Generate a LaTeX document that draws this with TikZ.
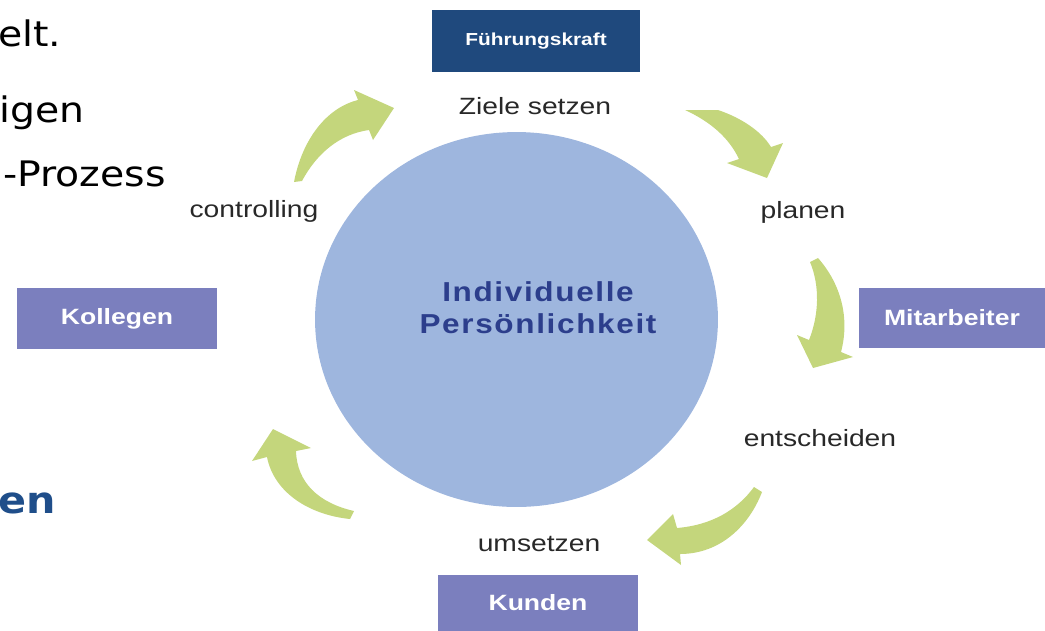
\documentclass[tikz,border=0pt]{standalone}
\usepackage{fontspec}
\usepackage{tikz}
\usetikzlibrary{shapes.geometric}

\newfontfamily\labelfont[FakeStretch=1.2]{Liberation Sans}
\newfontfamily\corefont[FakeStretch=1.15,LetterSpace=6]{Liberation Sans}
\newfontfamily\slidefont[FakeStretch=1.12]{DejaVu Sans}

\definecolor{leafgreen}{RGB}{196,214,124}
\definecolor{corefill}{RGB}{158,182,222}
\definecolor{corelabel}{RGB}{44,62,140}
\definecolor{leadblue}{RGB}{31,73,125}
\definecolor{rolebox}{RGB}{123,127,190}
\definecolor{labelgray}{RGB}{40,40,40}
\definecolor{slideblue}{RGB}{31,78,138}

\begin{document}
\begin{tikzpicture}[x=0.02cm, y=-0.02cm,
    role/.style={fill=rolebox, text=white, inner sep=0pt, minimum width=4cm, minimum height=1.22cm,
      font=\labelfont\bfseries\fontsize{12.6}{15}\selectfont},
    stagelabel/.style={text=labelgray, inner sep=0pt, font=\labelfont\fontsize{13.4}{16}\selectfont},
    slidetext/.style={inner sep=0pt, font=\slidefont\fontsize{20}{24}\selectfont},
    leaf/.style={fill=leafgreen}]
                \clip (0,0) rectangle (1045,630);
                % cut-off slide text on the left
                \node[slidetext, anchor=base west] (line1) at (-2,46) {elt.};
                \node[slidetext, anchor=base west] (line2) at (-1,122) {igen};
                \node[slidetext, anchor=base east] (line3) at (166,186) {-Prozess};
                \node[slidetext, anchor=base west, text=slideblue, font=\slidefont\bfseries\fontsize{21}{25}\selectfont] (line4) at (-2,513) {en};
                % centre
                \node[ellipse, fill=corefill, minimum width=8.06cm, minimum height=7.5cm, inner sep=0pt] (core) at (516.5,319.5) {};
                \node[text=corelabel, align=center, inner sep=0pt, font=\corefont\bfseries\fontsize{15.6}{18.3}\selectfont] (coretext) at (538,308) {Individuelle\\Persönlichkeit};
                % boxes
                \node[role, fill=leadblue, minimum width=4.16cm, minimum height=1.24cm, font=\labelfont\bfseries\fontsize{9.9}{12}\selectfont] (lead) at (536,41) {Führungskraft};
                \node[role] (colleagues) at (117,318.5) {Kollegen};
                \node[role, minimum width=3.72cm, minimum height=1.2cm] (staff) at (952,318) {Mitarbeiter};
                \node[role, minimum height=1.12cm] (clients) at (538,602.5) {Kunden};
                % stages
                \node[stagelabel] (goals) at (535,106) {Ziele setzen};
                \node[stagelabel] (plan) at (803,212) {planen};
                \node[stagelabel] (decide) at (820,438) {entscheiden};
                \node[stagelabel] (act) at (539,544) {umsetzen};
                \node[stagelabel] (control) at (254,211) {controlling};
                % cycle arrows
                \fill[leaf] (294,182) .. controls (302,140) and (326,108) .. (358,100) -- (354,90) -- (394,108)
                  -- (373,140) -- (369,130) .. controls (340,134) and (317,153) .. (302,181) -- cycle;
                \fill[leaf] (685,110) -- (718,110) .. controls (742,118) and (762,132) .. (771,147) -- (783,143)
                  -- (767,178) -- (727,163) -- (739,159) .. controls (729,138) and (711,122) .. (685,110) -- cycle;
                \fill[leaf] (810,262) .. controls (820,286) and (819,315) .. (809,340) -- (797,335) -- (813,368)
                  -- (853,357) -- (841,352) .. controls (850,318) and (841,284) .. (818,258) -- cycle;
                \fill[leaf] (762,492) .. controls (749,526) and (720,554) .. (680,554) -- (681,565) -- (647,540)
                  -- (673,514) -- (677,528) .. controls (712,525) and (737,510) .. (754,487) -- cycle;
                \fill[leaf] (354,511) .. controls (319,503) and (297,483) .. (296,451) -- (311,448) -- (273,429)
                  -- (252,461) -- (267,457) .. controls (274,493) and (310,515) .. (350,519) -- cycle;
            \end{tikzpicture}
\end{document}
